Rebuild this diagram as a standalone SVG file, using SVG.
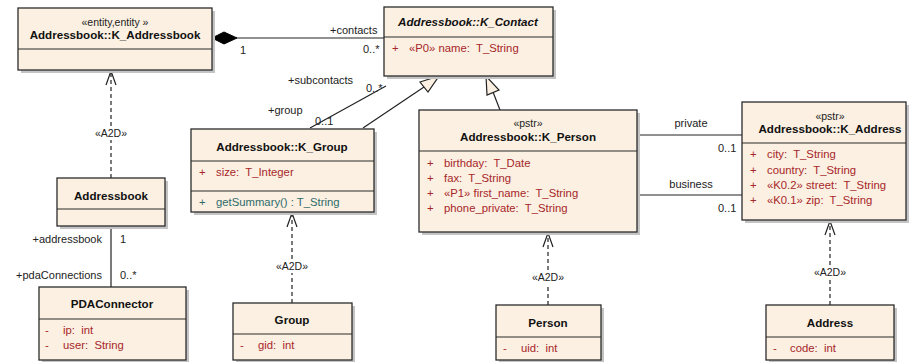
<svg xmlns="http://www.w3.org/2000/svg" width="912" height="362" viewBox="0 0 912 362" xml:space="preserve">
<defs>
<style>
text{white-space:pre}
.box{fill:#fbf0e1;stroke:#2b2b2b;stroke-width:1.3}
.sh{fill:#c4c4c4}
.div{stroke:#2b2b2b;stroke-width:1.2}
.t{font-family:"Liberation Sans",Arial,sans-serif;font-size:11.6px;fill:#111;font-weight:bold;text-anchor:middle}
.st{font-family:"Liberation Sans",Arial,sans-serif;font-size:10.5px;fill:#222;text-anchor:middle}
.a{font-family:"Liberation Sans",Arial,sans-serif;font-size:11.3px;fill:#a7262a}
.m{font-family:"Liberation Sans",Arial,sans-serif;font-size:11.3px;fill:#2f6b6b}
.l{font-family:"Liberation Sans",Arial,sans-serif;font-size:11px;fill:#222}
.ln{stroke:#222;stroke-width:1.2;fill:none}
.dash{stroke:#222;stroke-width:1.2;fill:none;stroke-dasharray:4,3}
.tri{fill:#fbf0e1;stroke:#222;stroke-width:1.2}
</style>
</defs>
<rect width="912" height="362" fill="#ffffff"/>

<g id="connectors">
  <line class="ln" x1="236" y1="38" x2="384" y2="38"/>
  <polygon points="212,38 224,32 237,38 224,44" fill="#000" stroke="#000" stroke-width="1"/>
  <text class="l" x="330" y="34">+contacts</text>
  <text class="l" x="240" y="54">1</text>
  <text class="l" x="363" y="53">0..*</text>
  <line class="ln" x1="310" y1="128" x2="386" y2="86"/>
  <text class="l" x="288" y="84">+subcontacts</text>
  <text class="l" x="366" y="92">0..*</text>
  <text class="l" x="268" y="114">+group</text>
  <text class="l" x="315" y="125">0..1</text>
  <line class="ln" x1="363" y1="128" x2="424" y2="87"/>
  <polygon class="tri" points="439,76 420,82 428,92"/>
  <line class="ln" x1="500" y1="110" x2="493" y2="92"/>
  <polygon class="tri" points="486,76 487,95 499,90"/>
  <line class="ln" x1="637" y1="135" x2="742" y2="135"/>
  <text class="l" x="691" y="127" text-anchor="middle">private</text>
  <text class="l" x="718" y="152">0..1</text>
  <line class="ln" x1="637" y1="195" x2="742" y2="195"/>
  <text class="l" x="691" y="188" text-anchor="middle">business</text>
  <text class="l" x="718" y="212">0..1</text>
  <line class="ln" x1="111" y1="226" x2="111" y2="287"/>
  <text class="l" x="102" y="243" text-anchor="end">+addressbook</text>
  <text class="l" x="120" y="243">1</text>
  <text class="l" x="102" y="279" text-anchor="end">+pdaConnections</text>
  <text class="l" x="120" y="279">0..*</text>
  <line class="dash" x1="111" y1="178" x2="111" y2="140"/>
  <line class="dash" x1="111" y1="126" x2="111" y2="71"/>
  <polyline class="ln" points="106,85 111,71 116,85"/>
  <text class="st" x="111" y="137">«A2D»</text>
  <line class="dash" x1="292" y1="303" x2="292" y2="273"/>
  <line class="dash" x1="292" y1="259" x2="292" y2="213"/>
  <polyline class="ln" points="287,227 292,213 297,227"/>
  <text class="st" x="292" y="270">«A2D»</text>
  <line class="dash" x1="548" y1="305" x2="548" y2="284"/>
  <line class="dash" x1="548" y1="270" x2="548" y2="233"/>
  <polyline class="ln" points="543,247 548,233 553,247"/>
  <text class="st" x="548" y="281">«A2D»</text>
  <line class="dash" x1="830" y1="305" x2="830" y2="279"/>
  <line class="dash" x1="830" y1="265" x2="830" y2="221"/>
  <polyline class="ln" points="825,235 830,221 835,235"/>
  <text class="st" x="830" y="276">«A2D»</text>
</g>

<g id="K_Addressbook">
  <rect class="sh" x="21" y="11" width="194" height="62"/>
  <rect class="box" x="18" y="8" width="194" height="62"/>
  <line class="div" x1="18" y1="49" x2="212" y2="49"/>
  <text class="st" x="115" y="26">«entity,entity »</text>
  <text class="t" x="115" y="39">Addressbook::K_Addressbook</text>
</g>

<g id="K_Contact">
  <rect class="sh" x="387" y="10" width="169" height="69"/>
  <rect class="box" x="384" y="7" width="169" height="69"/>
  <line class="div" x1="384" y1="37" x2="553" y2="37"/>
  <text class="t" x="468" y="26" font-style="italic">Addressbook::K_Contact</text>
  <text class="a" x="392" y="52">+</text>
  <text class="a" x="409" y="52">«P0» name:  T_String</text>
</g>

<g id="K_Group">
  <rect class="sh" x="194" y="132" width="183" height="83"/>
  <rect class="box" x="191" y="129" width="183" height="83"/>
  <line class="div" x1="191" y1="161" x2="374" y2="161"/>
  <line class="div" x1="191" y1="191" x2="374" y2="191"/>
  <text class="t" x="282" y="151">Addressbook::K_Group</text>
  <text class="a" x="199" y="176">+</text>
  <text class="a" x="216" y="176">size:  T_Integer</text>
  <text class="m" x="199" y="206">+</text>
  <text class="m" x="216" y="206">getSummary() : T_String</text>
</g>

<g id="K_Person">
  <rect class="sh" x="422" y="113" width="218" height="122"/>
  <rect class="box" x="419" y="110" width="218" height="122"/>
  <line class="div" x1="419" y1="151" x2="637" y2="151"/>
  <text class="st" x="528" y="127">«pstr»</text>
  <text class="t" x="528" y="141">Addressbook::K_Person</text>
  <text class="a" x="427" y="167">+</text>
  <text class="a" x="444" y="167">birthday:  T_Date</text>
  <text class="a" x="427" y="182">+</text>
  <text class="a" x="444" y="182">fax:  T_String</text>
  <text class="a" x="427" y="197">+</text>
  <text class="a" x="444" y="197">«P1» first_name:  T_String</text>
  <text class="a" x="427" y="212">+</text>
  <text class="a" x="444" y="212">phone_private:  T_String</text>
</g>

<g id="K_Address">
  <rect class="sh" x="745" y="105" width="164" height="118"/>
  <rect class="box" x="742" y="102" width="164" height="118"/>
  <line class="div" x1="742" y1="143" x2="906" y2="143"/>
  <text class="st" x="830" y="120">«pstr»</text>
  <text class="t" x="830" y="133">Addressbook::K_Address</text>
  <text class="a" x="750" y="158">+</text>
  <text class="a" x="767" y="158">city:  T_String</text>
  <text class="a" x="750" y="174">+</text>
  <text class="a" x="767" y="174">country:  T_String</text>
  <text class="a" x="750" y="189">+</text>
  <text class="a" x="767" y="189">«K0.2» street:  T_String</text>
  <text class="a" x="750" y="204">+</text>
  <text class="a" x="767" y="204">«K0.1» zip:  T_String</text>
</g>

<g id="Addressbook">
  <rect class="sh" x="60" y="181" width="108" height="48"/>
  <rect class="box" x="57" y="178" width="108" height="48"/>
  <line class="div" x1="57" y1="209" x2="165" y2="209"/>
  <text class="t" x="111" y="200">Addressbook</text>
</g>

<g id="PDAConnector">
  <rect class="sh" x="42" y="290" width="147" height="73"/>
  <rect class="box" x="39" y="287" width="147" height="73"/>
  <line class="div" x1="39" y1="319" x2="186" y2="319"/>
  <text class="t" x="112" y="308">PDAConnector</text>
  <text class="a" x="45" y="334">-</text>
  <text class="a" x="63" y="334">ip:  int</text>
  <text class="a" x="45" y="349">-</text>
  <text class="a" x="63" y="349">user:  String</text>
</g>

<g id="Group">
  <rect class="sh" x="236" y="306" width="119" height="57"/>
  <rect class="box" x="233" y="303" width="119" height="57"/>
  <line class="div" x1="233" y1="334" x2="352" y2="334"/>
  <text class="t" x="292" y="324">Group</text>
  <text class="a" x="240" y="349">-</text>
  <text class="a" x="258" y="349">gid:  int</text>
</g>

<g id="Person">
  <rect class="sh" x="499" y="308" width="105" height="55"/>
  <rect class="box" x="496" y="305" width="105" height="55"/>
  <line class="div" x1="496" y1="337" x2="601" y2="337"/>
  <text class="t" x="548" y="327">Person</text>
  <text class="a" x="503" y="352">-</text>
  <text class="a" x="521" y="352">uid:  int</text>
</g>

<g id="Address">
  <rect class="sh" x="769" y="308" width="128" height="55"/>
  <rect class="box" x="766" y="305" width="128" height="55"/>
  <line class="div" x1="766" y1="337" x2="894" y2="337"/>
  <text class="t" x="830" y="327">Address</text>
  <text class="a" x="773" y="352">-</text>
  <text class="a" x="790" y="352">code:  int</text>
</g>
</svg>
